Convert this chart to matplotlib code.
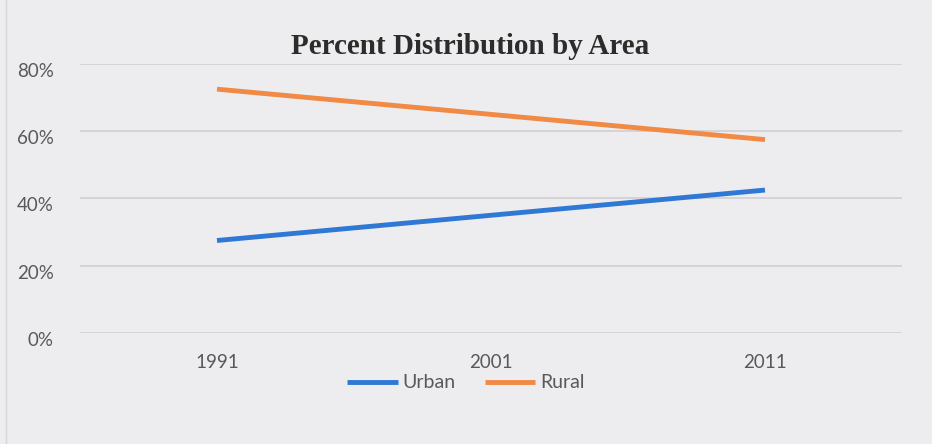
import matplotlib.pyplot as plt
import numpy as np
from matplotlib.ticker import PercentFormatter
from matplotlib.transforms import ScaledTranslation

years = ["1991", "2001", "2011"]
urban = [27.5, 35.0, 42.5]
rural = [72.5, 65.0, 57.5]
y_ticks = [0, 20, 40, 60, 80]

paper = "#EDEDF0"
blue = "#2F78D4"
orange = "#F08A45"
grey_text = "#595959"

plt.rcParams['font.family'] = ['Lato', 'DejaVu Sans']

fig = plt.figure(figsize=(9.32, 4.44), dpi=100)
fig.patch.set_facecolor(paper)
ax = fig.add_axes([0.0858, 0.25, 0.882, 0.606])
ax.set_facecolor(paper)

x = np.arange(len(years))
ax.plot(x, urban, color=blue, linewidth=3.5, solid_capstyle='butt', label="Urban")
ax.plot(x, rural, color=orange, linewidth=3.5, solid_capstyle='butt', label="Rural")

ax.set_xlim(-0.5, len(years) - 0.5)
ax.set_ylim(0, 80)
ax.set_yticks(y_ticks)
ax.yaxis.set_major_formatter(PercentFormatter(decimals=0))
ax.set_xticks(x)
ax.set_xticklabels(years)
ax.grid(axis='y', color="#CFCFD2", linewidth=1.2)
ax.set_axisbelow(True)
for s in ax.spines.values():
    s.set_visible(False)
ax.tick_params(axis='both', length=0, labelsize=13.5, colors=grey_text)
ax.tick_params(axis='y', pad=19)
ax.tick_params(axis='x', pad=15)

# y labels sit a little below their gridlines
shift = ScaledTranslation(0, -6 / 100, fig.dpi_scale_trans)
for lbl in ax.get_yticklabels():
    lbl.set_transform(lbl.get_transform() + shift)

fig.text(470 / 932, 1 - 47 / 444, "Percent Distribution by Area", ha='center', va='center',
         fontsize=21, fontweight='bold', color="#2E2B2B", family=['Liberation Serif'])

fig.legend(loc='center', bbox_to_anchor=(466 / 932, 1 - 383 / 444), ncol=2, frameon=False,
           fontsize=14, handlelength=2.6, handletextpad=0.25, columnspacing=1.5,
           labelcolor=grey_text)

# faint chart border at the left edge
fig.add_artist(plt.Line2D([6 / 932, 6 / 932], [0, 1], color="#D6D6D9", linewidth=1))

fig.savefig("out.png", dpi=100, facecolor=paper)
